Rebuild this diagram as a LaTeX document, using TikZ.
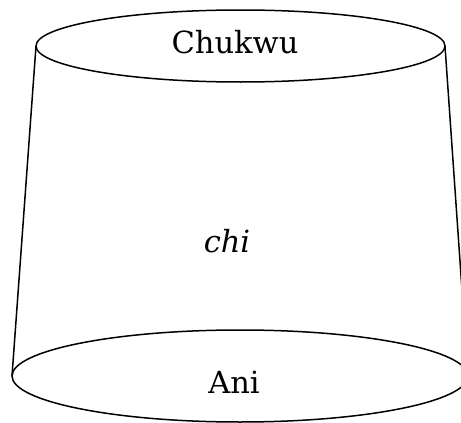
\documentclass[tikz,border=0pt]{standalone}
\usepackage{fontspec}
\setmainfont{DejaVu Serif}
\begin{document}
\begin{tikzpicture}[x=1pt,y=-1pt,
  outline/.style={line width=1.5pt,black},
  label/.style={font=\fontsize{30.5}{33}\selectfont,inner sep=0pt,anchor=base}]
\useasboundingbox (0,0) rectangle (461,423);
\clip (0,0) rectangle (461,423);
% rims of the vessel
\draw[outline,fill=white] (240,376) ellipse [x radius=228,y radius=46];
\draw[outline] (240.5,46) ellipse [x radius=204.5,y radius=36];
% sides
\coordinate (tl) at (36,46);
\coordinate (bl) at (12,376);
\coordinate (tr) at (445,46);
\coordinate (br) at (468,376);
\draw[outline] (tl) -- (bl);
\draw[outline] (tr) -- (br);
% labels
\node[label] (top) at (235,53) {Chukwu};
\node[label] (mid) at (227,252) {\itshape chi};
\node[label] (bot) at (234,393) {Ani};
\end{tikzpicture}
\end{document}
